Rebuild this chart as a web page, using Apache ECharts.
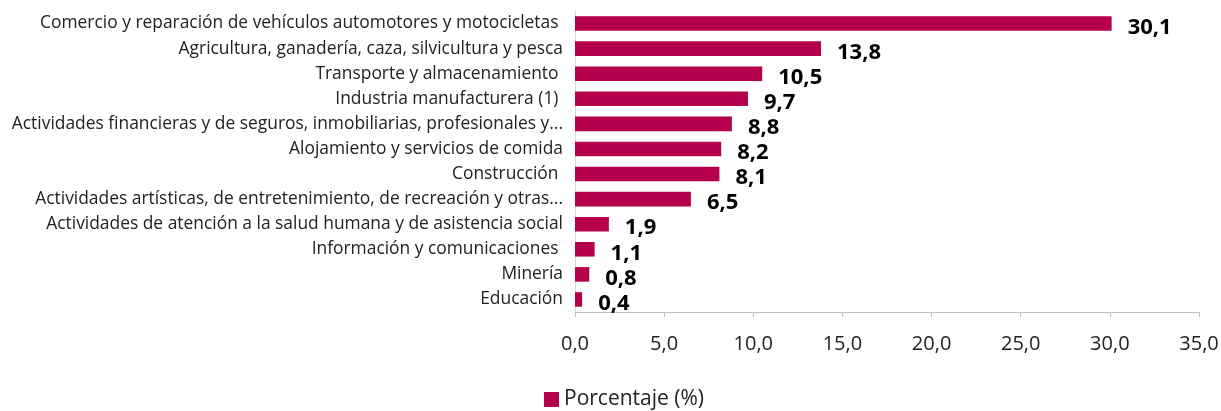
<!DOCTYPE html>
<html>
<head>
<meta charset="utf-8">
<script src="https://cdn.jsdelivr.net/npm/echarts@6/dist/echarts.min.js"></script>
<style>
  html, body { margin: 0; padding: 0; background: #fff; }
  #container { width: 1221px; height: 411px; }
</style>
</head>
<body>
<div id="container"></div>
<script>
// categories, top to bottom as in the picture
var categorias = [
    "Comercio y reparación de vehículos automotores y motocicletas ",
    "Agricultura, ganadería, caza, silvicultura y pesca",
    "Transporte y almacenamiento ",
    "Industria manufacturera (1) ",
    "Actividades financieras y de seguros, inmobiliarias, profesionales y...",
    "Alojamiento y servicios de comida",
    "Construcción ",
    "Actividades artísticas, de entretenimiento, de recreación y otras...",
    "Actividades de atención a la salud humana y de asistencia social",
    "Información y comunicaciones ",
    "Minería",
    "Educación"
];
var porcentajes = [30.1, 13.8, 10.5, 9.7, 8.8, 8.2, 8.1, 6.5, 1.9, 1.1, 0.8, 0.4];
var xTicks = { min: 0, max: 35, interval: 5 };

function coma(v, d) {
    return v.toFixed(d).replace('.', ',');
}

var myChart = echarts.init(document.getElementById("container"));
myChart.setOption({
    animation: false,
    textStyle: { fontFamily: "Open Sans" },
    grid: { left: 575, right: 22, top: 11, bottom: 99, containLabel: false, outerBoundsMode: 'none' },
    legend: {
        bottom: -4,
        left: 539,
        itemWidth: 15,
        itemHeight: 15,
        icon: 'rect',
        textStyle: { fontSize: 21, color: '#222', fontFamily: "Open Sans" },
        data: ['Porcentaje (%)']
    },
    xAxis: {
        type: 'value',
        min: xTicks.min,
        max: xTicks.max,
        interval: xTicks.interval,
        axisLine: { show: true, lineStyle: { color: '#bfbfbf', width: 1 } },
        axisTick: { show: true, length: 5, lineStyle: { color: '#bfbfbf' } },
        splitLine: { show: false },
        axisLabel: {
            fontSize: 20, color: '#222', margin: 22,
            formatter: function (v) { return coma(v, 1); }
        }
    },
    yAxis: {
        type: 'category',
        inverse: true,
        data: categorias,
        axisLine: { show: true, lineStyle: { color: '#d9d9d9', width: 1 } },
        axisTick: { show: false },
        axisLabel: { fontSize: 17.4, color: '#222', margin: 12 }
    },
    series: [{
        name: 'Porcentaje (%)',
        type: 'bar',
        data: porcentajes,
        barCategoryGap: '42%',
        itemStyle: { color: '#b5004b' },
        label: {
            show: true,
            position: 'right',
            distance: 16,
            offset: [0, 4],
            fontSize: 22,
            fontWeight: 'bold',
            color: '#000',
            formatter: function (p) { return coma(p.value, 1); }
        }
    }]
});
</script>
</body>
</html>
